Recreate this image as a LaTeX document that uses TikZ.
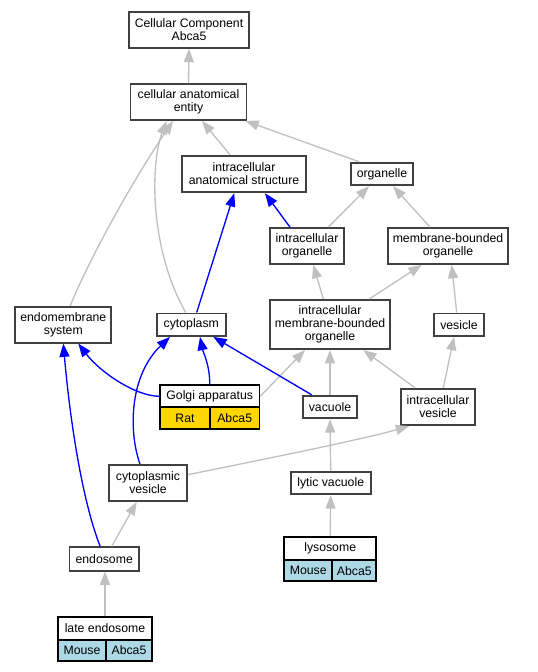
\documentclass[tikz,border=0pt]{standalone}
\usepackage{fontspec}
\setmainfont{Liberation Sans}
\usetikzlibrary{arrows.meta,calc}

\definecolor{isagray}{HTML}{C0C0C0}
\definecolor{boxgray}{HTML}{404040}
\definecolor{ratgold}{HTML}{FFD700}
\definecolor{mouseblue}{HTML}{ADD8E6}

\tikzset{
  term/.style={draw=boxgray, line width=1.3pt, fill=white, inner sep=0pt, align=center,
    font=\fontsize{9.2}{9.8}\selectfont},
  cell/.style={draw=black, line width=1.3pt, inner sep=0pt, font=\fontsize{9.2}{9.8}\selectfont},
  isa/.style={draw=isagray, line width=1pt, -{Triangle[length=10pt,width=7.5pt]}},
  partof/.style={draw=blue, line width=1pt, -{Triangle[length=10pt,width=7.5pt]}},
}

\begin{document}
\begin{tikzpicture}[x=0.75pt,y=-0.75pt]
    \useasboundingbox (0,0) rectangle (537,672);

    % terms
    \node[term, minimum width=90pt, minimum height=27pt] (cc) at (189,30) {Cellular Component\\Abca5};
    \node[term, minimum width=87pt, minimum height=27pt] (cae) at (188.5,102) {cellular anatomical\\entity};
    \node[term, minimum width=93pt, minimum height=27.5pt] (ias) at (244,174) {intracellular\\anatomical structure};
    \node[term, minimum width=46.5pt, minimum height=17pt] (org) at (382,174) {organelle};
    \node[term, minimum width=55.5pt, minimum height=27pt] (io) at (307,246) {intracellular\\organelle};
    \node[term, minimum width=90.5pt, minimum height=27pt] (mbo) at (448,246) {membrane-bounded\\organelle};
    \node[term, minimum width=72pt, minimum height=27pt] (ems) at (63.3,324.7) {endomembrane\\system};
    \node[term, minimum width=51.5pt, minimum height=17pt] (cyto) at (191.3,324.7) {cytoplasm};
    \node[term, minimum width=90pt, minimum height=37pt] (imbo) at (330,324.5) {intracellular\\membrane-bounded\\organelle};
    \node[term, minimum width=37pt, minimum height=17pt] (ves) at (459,324.7) {vesicle};
    \node[term, minimum width=40pt, minimum height=17pt] (vac) at (330,407) {vacuole};
    \node[term, minimum width=55.5pt, minimum height=27.5pt] (iv) at (438,407) {intracellular\\vesicle};
    \node[term, minimum width=58.5pt, minimum height=27pt] (cv) at (148,483) {cytoplasmic\\vesicle};
    \node[term, minimum width=60pt, minimum height=17pt] (lv) at (330.7,483) {lytic vacuole};
    \node[term, minimum width=52pt, minimum height=17.5pt] (endo) at (104.2,559) {endosome};

    % annotated terms with species / gene cells
    \node[term, draw=black, minimum width=74.5pt, minimum height=16.5pt] (golgi) at (209.7,396.3) {Golgi apparatus};
    \node[cell, fill=ratgold, minimum width=37.5pt, minimum height=16.5pt] (golgiRat) at (185,418.3) {Rat};
    \node[cell, fill=ratgold, minimum width=37pt, minimum height=16.5pt] (golgiGene) at (234.7,418.3) {Abca5};

    \node[term, draw=black, minimum width=69.2pt, minimum height=17.5pt] (lyso) at (330.2,548.7) {lysosome};
    \node[cell, fill=mouseblue, minimum width=36.2pt, minimum height=15.75pt] (lysoMouse) at (308.2,570.8) {Mouse};
    \node[cell, fill=mouseblue, minimum width=33pt, minimum height=15.75pt] (lysoGene) at (354.3,570.8) {Abca5};

    \node[term, draw=black, minimum width=70.5pt, minimum height=17pt] (late) at (105,628.3) {late endosome};
    \node[cell, fill=mouseblue, minimum width=36pt, minimum height=16.2pt] (lateMouse) at (82,650.5) {Mouse};
    \node[cell, fill=mouseblue, minimum width=34.5pt, minimum height=16.2pt] (lateGene) at (129,650.5) {Abca5};

    % is_a edges
    \draw[isa] (cae.north) -- (cc.south);
    \draw[isa] ($(ias.north)+(-14,0)$) -- ($(cae.south)+(13.5,0)$);
    \draw[isa] ($(org.north)+(-22.7,0)$) -- ($(cae.south east)+(-2,0)$);
    \draw[isa] ($(ems.north)+(7,0)$) .. controls (80,280) and (120,200) .. ($(cae.south)+(-15.5,0)$);
    \draw[isa] ($(cyto.north)+(-5.6,0)$) .. controls (150,250) and (150,165) .. ($(cae.south)+(-22,0)$);
    \draw[isa] ($(io.north)+(21.3,0)$) -- ($(org.south)+(-13,0)$);
    \draw[isa] ($(mbo.north)+(-18,0)$) -- ($(org.south)+(11,0)$);
    \draw[isa] ($(imbo.north)+(-6.7,0)$) -- ($(io.south)+(6.3,0)$);
    \draw[isa] ($(imbo.north)+(39.3,0)$) -- ($(mbo.south)+(-26.3,0)$);
    \draw[isa] ($(ves.north)+(-2.3,0)$) -- ($(mbo.south)+(3.7,0)$);
    \draw[isa] (golgi.east) -- ($(imbo.south)+(-25,0)$);
    \draw[isa] (vac.north) -- (imbo.south);
    \draw[isa] ($(iv.north)+(-23,0)$) -- ($(imbo.south)+(33.3,0)$);
    \draw[isa] ($(iv.north)+(5.3,0)$) -- ($(ves.south)+(-5,0)$);
    \draw[isa] ($(cv.east)+(0,-8.3)$) .. controls (260,460) and (360,440) .. ($(iv.south west)+(9,0)$);
    \draw[isa] ($(endo.north)+(7.5,0)$) -- ($(cv.south)+(-11.3,0)$);
    \draw[isa] (late.north) -- (late.north |- endo.south);
    \draw[isa] (lyso.north) -- (lv.south);
    \draw[isa] (lv.north) -- (vac.south);

    % part_of edges
    \draw[partof] ($(cyto.north)+(5.4,0)$) -- ($(ias.south)+(-9.7,0)$);
    \draw[partof] ($(io.north)+(-17,0)$) -- ($(ias.south)+(21,0)$);
    \draw[partof] (golgi.west) .. controls (135,396) and (100,372) .. ($(ems.south)+(15,0)$);
    \draw[partof] (golgi.north) .. controls (210,365) and (203,352) .. ($(cyto.south)+(8.7,0)$);
    \draw[partof] ($(vac.north)+(-18.3,0)$) -- ($(cyto.south)+(22,0)$);
    \draw[partof] ($(cv.north)+(-8,0)$) .. controls (128,430) and (130,375) .. ($(cyto.south)+(-21.3,0)$);
    \draw[partof] ($(endo.north)+(-4,0)$) .. controls (82,500) and (70,420) .. (ems.south);
\end{tikzpicture}
\end{document}
